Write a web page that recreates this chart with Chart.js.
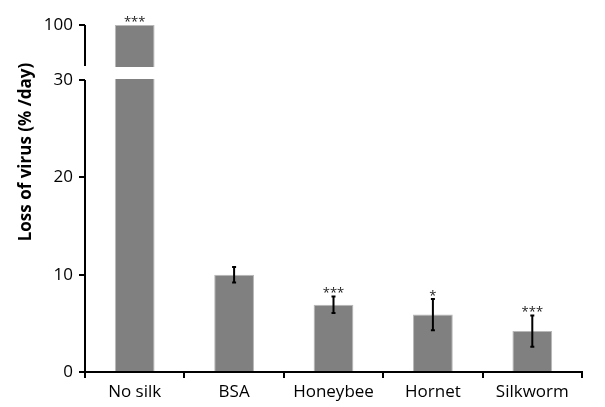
<!DOCTYPE html>
<html>
<head>
<meta charset="utf-8">
<script src="https://cdn.jsdelivr.net/npm/chart.js@4"></script>
<style>
  html, body { margin: 0; padding: 0; background: #fff; }
  #wrap { width: 605px; height: 407px; }
</style>
</head>
<body>
<div id="wrap"><canvas id="chart" width="605" height="407"></canvas></div>
<script>
// data
const categories = ["No silk", "BSA", "Honeybee", "Hornet", "Silkworm"];
const lossValues = [100, 10.0, 6.9, 5.9, 4.2];
const lossErrors = [0, 0.8, 0.85, 1.6, 1.6];
const significance = ["***", "", "***", "*", "***"];
const yTicks = [0, 10, 20, 30, 100];

const BREAK_AT = 30;
const TOP_VALUE = 100;

// y axis with a break between 30 and 100
class BrokenScale extends Chart.LinearScale {
  buildTicks() {
    this.min = 0;
    this.max = TOP_VALUE;
    return yTicks.map(v => ({ value: v }));
  }
  segs() {
    const h = this.bottom - this.top;
    const upperH = h * 41 / 347;
    const gap = h * 14 / 347;
    return { upperH, gap, lowerH: h - upperH - gap };
  }
  getPixelForValue(v) {
    const s = this.segs();
    if (v <= BREAK_AT) return this.bottom - v / BREAK_AT * s.lowerH;
    return this.top + s.upperH - (v - BREAK_AT) / (TOP_VALUE - BREAK_AT) * s.upperH;
  }
  getValueForPixel(p) {
    const s = this.segs();
    if (p >= this.bottom - s.lowerH) return (this.bottom - p) / s.lowerH * BREAK_AT;
    return BREAK_AT + (this.top + s.upperH - p) / s.upperH * (TOP_VALUE - BREAK_AT);
  }
}
BrokenScale.id = 'broken';
BrokenScale.defaults = Chart.LinearScale.defaults;
Chart.register(BrokenScale);

const fontFamily = "'Open Sans', sans-serif";

const extras = {
  id: 'extras',
  afterDatasetsDraw(chart) {
    const ctx = chart.ctx;
    const x = chart.scales.x;
    const y = chart.scales.y;
    const area = chart.chartArea;
    const s = y.segs();
    const gapTop = y.top + s.upperH;
    const gapBottom = y.bottom - s.lowerH;

    ctx.save();
    // white out the break in the tall bar
    ctx.fillStyle = '#fff';
    ctx.fillRect(area.left + 2, gapTop + 1, area.right - area.left, gapBottom - gapTop - 2);

    // broken y axis line
    ctx.strokeStyle = '#000';
    ctx.lineWidth = 2;
    ctx.beginPath();
    ctx.moveTo(area.left, y.getPixelForValue(TOP_VALUE));
    ctx.lineTo(area.left, gapTop);
    ctx.moveTo(area.left, y.getPixelForValue(BREAK_AT));
    ctx.lineTo(area.left, y.bottom);
    ctx.stroke();

    // error bars and significance stars
    ctx.lineWidth = 2;
    ctx.font = "13px " + fontFamily;
    ctx.textAlign = 'center';
    ctx.textBaseline = 'middle';
    ctx.fillStyle = '#222';
    lossValues.forEach((v, i) => {
      const cx = x.getPixelForValue(i);
      let topY = y.getPixelForValue(v);
      if (lossErrors[i] > 0) {
        const hi = y.getPixelForValue(v + lossErrors[i]);
        const lo = y.getPixelForValue(v - lossErrors[i]);
        ctx.beginPath();
        ctx.moveTo(cx, hi); ctx.lineTo(cx, lo);
        ctx.moveTo(cx - 2, hi); ctx.lineTo(cx + 2, hi);
        ctx.moveTo(cx - 2, lo); ctx.lineTo(cx + 2, lo);
        ctx.stroke();
        topY = hi;
      }
      if (significance[i]) ctx.fillText(significance[i], cx, topY - 3);
    });

    // y axis title
    ctx.font = "bold 17px " + fontFamily;
    ctx.fillStyle = '#000';
    ctx.translate(26, 152);
    ctx.rotate(-Math.PI / 2);
    ctx.fillText("Loss of virus (% /day)", 0, 0);
    ctx.restore();
  }
};

new Chart(document.getElementById('chart'), {
  type: 'bar',
  data: {
    labels: categories,
    datasets: [{
      data: lossValues,
      backgroundColor: '#808080',
      borderColor: '#b8b8b8',
      borderWidth: 1,
      categoryPercentage: 1,
      barPercentage: 0.4
    }]
  },
  options: {
    responsive: false,
    animation: false,
    layout: { padding: { top: 25, right: 23, left: 0, bottom: 0 } },
    plugins: { legend: { display: false }, tooltip: { enabled: false } },
    scales: {
      x: {
        grid: { offset: true, drawOnChartArea: false, tickLength: 6, color: '#000', lineWidth: 2 },
        border: { color: '#000', width: 2 },
        ticks: { color: '#000', font: { family: fontFamily, size: 17 }, padding: 4 },
        afterFit(scale) { scale.height = 35; }
      },
      y: {
        type: 'broken',
        min: 0,
        max: TOP_VALUE,
        grid: { drawOnChartArea: false, tickLength: 6, color: '#000', lineWidth: 2 },
        border: { display: false },
        ticks: { color: '#000', font: { family: fontFamily, size: 17 }, padding: 6, autoSkip: false },
        afterFit(scale) { scale.width = 85; }
      }
    }
  },
  plugins: [extras]
});
</script>
</body>
</html>
